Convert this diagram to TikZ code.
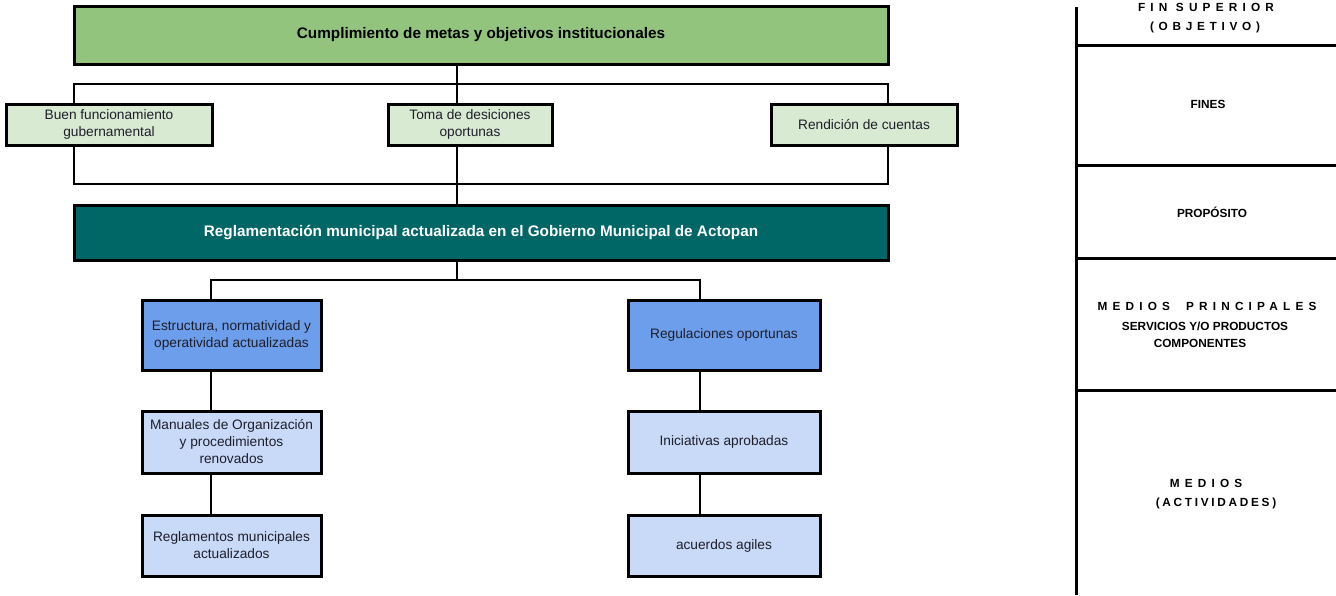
\documentclass[tikz,border=0pt]{standalone}
\usepackage{fontspec}
\setmainfont{Liberation Sans}
\definecolor{fgreen}{HTML}{93C47D}
\definecolor{flight}{HTML}{D9EAD3}
\definecolor{fteal}{HTML}{006666}
\definecolor{fblue}{HTML}{6D9EEB}
\definecolor{flblue}{HTML}{C9DAF8}
\definecolor{ftext}{HTML}{1E1E2A}
\newcommand{\lsp}[2]{{\addfontfeature{LetterSpace=#1}#2}}
\begin{document}
\begin{tikzpicture}[x=1pt,y=-1pt,
  box/.style={draw=black, line width=3pt, outer sep=0pt, inner sep=2pt, align=center,
    text=ftext, font=\fontsize{13.7}{17}\selectfont},
  headbox/.style={box, font=\fontsize{15.3}{17}\selectfont\bfseries},
  conn/.style={draw=black, line width=2pt},
  rule/.style={draw=black, line width=3pt},
  lab/.style={anchor=base, inner sep=0pt, font=\fontsize{11.8}{14}\selectfont\bfseries}]
\useasboundingbox (0,0) rectangle (1336,595);

% top level
\node[headbox, fill=fgreen, text=black, minimum width=814, minimum height=58] (goal) at (481,35)
  {Cumplimiento de metas y objetivos institucionales};
\node[box, fill=flight, minimum width=206, minimum height=41] (f1) at (109,124.5)
  {Buen funcionamiento\\gubernamental};
\node[box, fill=flight, minimum width=164, minimum height=41] (f2) at (470,124.5)
  {Toma de desiciones\\oportunas};
\node[box, fill=flight, minimum width=186, minimum height=41] (f3) at (864,124.5)
  {Rendición de cuentas};
\node[headbox, fill=fteal, text=white, minimum width=814, minimum height=55] (purp) at (481,232.5)
  {Reglamentación municipal actualizada en el Gobierno Municipal de Actopan};
\node[box, fill=fblue, minimum width=179, minimum height=70] (c1) at (231.5,335)
  {Estructura, normatividad y\\operatividad actualizadas};
\node[box, fill=fblue, minimum width=192, minimum height=70] (c2) at (724,335)
  {Regulaciones oportunas};
\node[box, fill=flblue, minimum width=179, minimum height=62] (a1) at (231.5,442)
  {Manuales de Organización\\y procedimientos\\renovados};
\node[box, fill=flblue, minimum width=179, minimum height=61] (a2) at (231.5,545.5)
  {Reglamentos municipales\\actualizados};
\node[box, fill=flblue, minimum width=192, minimum height=62] (a3) at (724,442)
  {Iniciativas aprobadas};
\node[box, fill=flblue, minimum width=192, minimum height=61] (a4) at (724,545.5)
  {acuerdos agiles};

% connectors
\coordinate (tx) at (457,84);
\coordinate (bx) at (457,184);
\coordinate (mx) at (457,280);
\coordinate (lx) at (211,280);
\coordinate (rx) at (700,280);
\draw[conn] (tx |- goal.south) -- (tx |- f2.north);
\draw[conn] (f1.north -| goal.west) -- (goal.west |- tx) -- (goal.east |- tx) -- (f3.north -| goal.east);
\draw[conn] (f1.south -| goal.west) -- (goal.west |- bx) -- (goal.east |- bx) -- (f3.south -| goal.east);
\draw[conn] (bx |- f2.south) -- (bx |- purp.north);
\draw[conn] (mx |- purp.south) -- (mx);
\draw[conn] (lx |- c1.north) -- (lx) -- (rx) -- (rx |- c2.north);
\draw[conn] (lx |- c1.south) -- (lx |- a1.north);
\draw[conn] (lx |- a1.south) -- (lx |- a2.north);
\draw[conn] (rx |- c2.south) -- (rx |- a3.north);
\draw[conn] (rx |- a3.south) -- (rx |- a4.north);

% right panel
\draw[rule] (1076,7) -- (1076,595);
\draw[rule] (1076,45) -- (1336,45);
\draw[rule] (1076,165) -- (1336,165);
\draw[rule] (1076,258) -- (1336,258);
\draw[rule] (1076,390) -- (1336,390);
\node[lab] (r1) at (1206,11) {\lsp{44}{FIN SUPERIOR}};
\node[lab] (r2) at (1205,30) {\lsp{40}{(OBJETIVO)}};
\node[lab] (r3) at (1208,108) {FINES};
\node[lab] (r4) at (1212,217) {PROPÓSITO};
\node[lab] (r5) at (1207,310) {\lsp{44}{MEDIOS\hspace{16pt}PRINCIPALES}};
\node[lab] (r6) at (1205,330) {SERVICIOS Y/O PRODUCTOS};
\node[lab] (r7) at (1200,347) {COMPONENTES};
\node[lab] (r8) at (1206,487) {\lsp{44}{MEDIOS}};
\node[lab] (r9) at (1216,506) {\lsp{23}{(ACTIVIDADES)}};
\end{tikzpicture}
\end{document}
